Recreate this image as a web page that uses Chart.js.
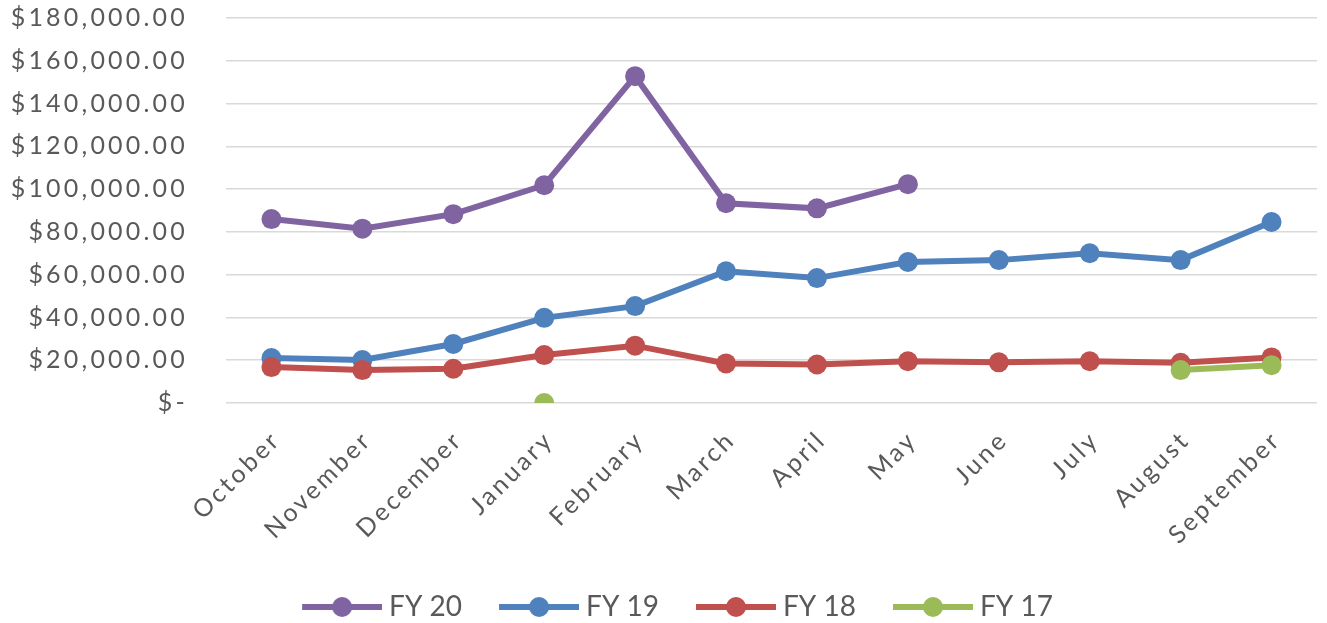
<!DOCTYPE html>
<html>
<head>
<meta charset="utf-8">
<script src="https://cdn.jsdelivr.net/npm/chart.js@4.4.1/dist/chart.umd.min.js"></script>
<style>
  html, body { margin: 0; padding: 0; background: #ffffff; }
  #wrap { width: 1327px; height: 623px; position: relative; }
</style>
</head>
<body>
<div id="wrap"><canvas id="c"></canvas></div>
<script>
const months = ['October','November','December','January','February','March','April','May','June','July','August','September'];
const seriesNames = ['FY 20','FY 19','FY 18','FY 17'];
const fy20 = [86000, 81500, 88300, 101800, 152800, 93400, 91000, 102300, null, null, null, null];
const fy19 = [21000, 20100, 27600, 39800, 45300, 61600, 58400, 65900, 66800, 70000, 66800, 84600];
const fy18 = [16800, 15400, 16000, 22400, 26800, 18500, 18000, 19500, 19000, 19500, 18800, 21300];
const fy17 = [null, null, null, 0, null, null, null, null, null, null, 15400, 17700];
const yTicks = [0, 20000, 40000, 60000, 80000, 100000, 120000, 140000, 160000, 180000];
const colors = ['#8064A2', '#4F81BD', '#C0504D', '#9BBB59'];

// letter spacing for axis labels
const origDrawLabels = Chart.Scale.prototype.drawLabels;
Chart.Scale.prototype.drawLabels = function (ca) {
  const ctx = this.ctx;
  ctx.save();
  ctx.letterSpacing = this.axis === 'y' ? '3.2px' : '3px';
  origDrawLabels.call(this, ca);
  ctx.restore();
};

// legend marker: line with a dot, drawn in the right part of a 115px image
function makeMarker(color) {
  const c = document.createElement('canvas');
  c.width = 115; c.height = 22;
  const g = c.getContext('2d');
  g.strokeStyle = color; g.lineWidth = 6; g.lineCap = 'butt';
  g.beginPath(); g.moveTo(35, 11); g.lineTo(115, 11); g.stroke();
  g.fillStyle = color;
  g.beginPath(); g.arc(75, 11, 10, 0, Math.PI * 2); g.fill();
  return c;
}
const markers = colors.map(makeMarker);

const allData = [fy20, fy19, fy18, fy17];
const datasets = allData.map((d, i) => ({
  label: seriesNames[i],
  data: d,
  borderColor: colors[i],
  backgroundColor: colors[i],
  borderWidth: 6,
  pointRadius: 10,
  pointHoverRadius: 10,
  pointBorderWidth: 0,
  pointBackgroundColor: colors[i],
  spanGaps: false,
  tension: 0,
  order: 4 - i
}));

new Chart(document.getElementById('c'), {
  type: 'line',
  data: { labels: months, datasets },
  options: {
    responsive: true,
    maintainAspectRatio: false,
    animation: false,
    layout: { padding: { top: 18, left: 0, right: 0, bottom: -8 } },
    scales: {
      x: {
        offset: true,
        grid: { display: false, drawTicks: false },
        border: { display: false },
        ticks: {
          minRotation: 45, maxRotation: 45, autoSkip: false,
          padding: 22,
          labelOffset: 5,
          color: '#595959',
          font: { family: 'Lato', size: 25 }
        },
        afterFit(s) { s.height = 181; }
      },
      y: {
        min: 0, max: 180000,
        afterBuildTicks(s) { s.ticks = yTicks.map(v => ({ value: v })); },
        grid: { color: '#d9d9d9', lineWidth: 1.5, drawTicks: true, tickLength: 35, tickColor: 'rgba(0,0,0,0)' },
        border: { display: false },
        ticks: {
          padding: 3,
          color: '#595959',
          font: { family: 'Lato', size: 25 },
          callback: v => v === 0 ? '$-' : '$' + Number(v).toLocaleString('en-US', { minimumFractionDigits: 2, maximumFractionDigits: 2 })
        },
        afterFit(s) { s.width = 226; }
      }
    },
    plugins: {
      tooltip: { enabled: false },
      legend: {
        position: 'bottom',
        labels: {
          usePointStyle: true,
          pointStyleWidth: 101,
          boxHeight: 22,
          padding: 9,
          color: '#595959',
          font: { family: 'Lato', size: 28 },
          sort: (a, b) => a.datasetIndex - b.datasetIndex,
          generateLabels(chart) {
            const items = Chart.defaults.plugins.legend.labels.generateLabels(chart);
            items.forEach(it => { it.pointStyle = markers[it.datasetIndex]; });
            return items;
          }
        }
      }
    }
  }
});
</script>
</body>
</html>
